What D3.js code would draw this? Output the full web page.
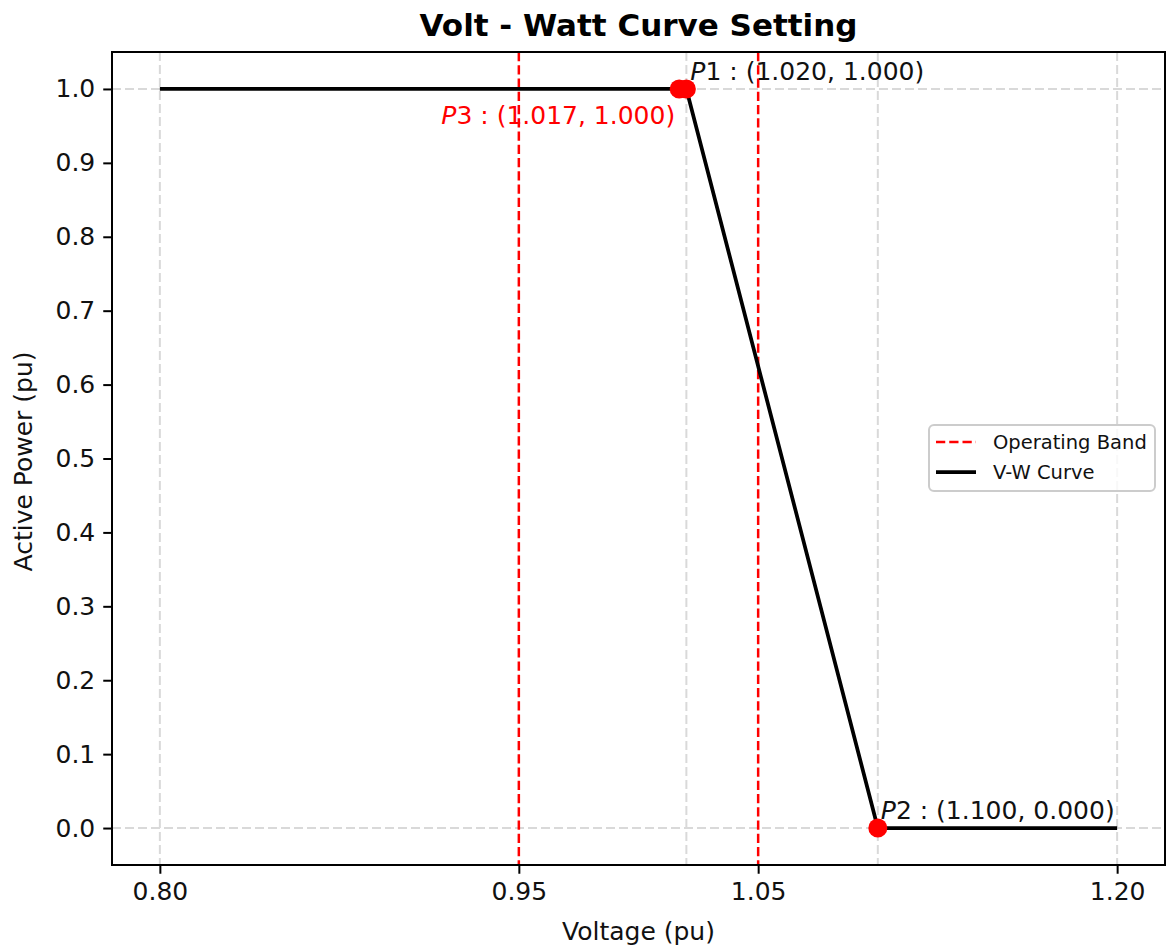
<!DOCTYPE html>
<html>
<head>
<meta charset="utf-8">
<script src="https://cdn.jsdelivr.net/npm/d3@7"></script>
<style>
  html, body { margin: 0; padding: 0; background: #fff; }
  svg { display: block; font-family: "DejaVu Sans", sans-serif; }
</style>
</head>
<body>
<svg id="chart" width="1168" height="952"></svg>
<script>
// ---- data ----
const curveV = [0.80, 1.02, 1.10, 1.20];
const curveP = [1.0, 1.0, 0.0, 0.0];
const bandV = [0.95, 1.05];
const pointNames = ["P1", "P2", "P3"];
const pointV = [1.020, 1.100, 1.017];
const pointP = [1.000, 0.000, 1.000];
const xTicks = [0.80, 0.95, 1.05, 1.20];
const yTicks = [0.0, 0.1, 0.2, 0.3, 0.4, 0.5, 0.6, 0.7, 0.8, 0.9, 1.0];
const gridV = [0.80, 1.02, 1.10, 1.20];
const gridP = [0.0, 1.0];
const legendLabels = ["Operating Band", "V-W Curve"];
const titleText = "Volt - Watt Curve Setting";
const xLabel = "Voltage (pu)";
const yLabel = "Active Power (pu)";

// ---- layout ----
const L = 112, R = 1165, T = 52, B = 865;
const svg = d3.select("#chart");
const x = d3.scaleLinear().domain([0.78, 1.22]).range([L, R]);
const y = d3.scaleLinear().domain([-0.05, 1.05]).range([B, T]);
const ink = "#111";

// grid
const grid = svg.append("g");
grid.selectAll("line.gv").data(gridV).join("line")
  .attr("x1", d => x(d)).attr("x2", d => x(d)).attr("y1", T).attr("y2", B)
  .attr("stroke", "#d9d9d9").attr("stroke-width", 2).attr("stroke-dasharray", "9,4");
grid.selectAll("line.gh").data(gridP).join("line")
  .attr("x1", L).attr("x2", R).attr("y1", d => y(d)).attr("y2", d => y(d))
  .attr("stroke", "#d9d9d9").attr("stroke-width", 2).attr("stroke-dasharray", "9,4");

// operating band
svg.append("g").selectAll("line").data(bandV).join("line")
  .attr("x1", d => x(d)).attr("x2", d => x(d)).attr("y1", T).attr("y2", B)
  .attr("stroke", "#ff0000").attr("stroke-width", 2.5).attr("stroke-dasharray", "9.25,4");

// curve
const curveData = curveV.map((v, i) => [v, curveP[i]]);
svg.append("path").datum(curveData)
  .attr("d", d3.line().x(d => x(d[0])).y(d => y(d[1])))
  .attr("fill", "none").attr("stroke", "#000").attr("stroke-width", 3.75)
  .attr("stroke-linejoin", "round");

// points
const pts = pointNames.map((n, i) => ({ n, v: pointV[i], p: pointP[i] }));
svg.append("g").selectAll("circle").data(pts).join("circle")
  .attr("cx", d => x(d.v)).attr("cy", d => y(d.p)).attr("r", 9.5).attr("fill", "#ff0000");

// labels
function addLabel(d, dx, dy, anchor, color) {
  const t = svg.append("text")
    .attr("x", x(d.v) + dx).attr("y", y(d.p) + dy)
    .attr("text-anchor", anchor).attr("fill", color)
    .attr("font-size", 25);
  t.append("tspan").attr("font-style", "italic").text(d.n[0]);
  t.append("tspan").text(d.n.slice(1) + " : (" + d.v.toFixed(3) + ", " + d.p.toFixed(3) + ")");
}
addLabel(pts[0], 4, -9, "start", ink);
addLabel(pts[1], 3, -9, "start", ink);
addLabel(pts[2], -4, 35, "end", "#ff0000");

// axes
const xAxis = svg.append("g").attr("transform", `translate(0,${B})`)
  .call(d3.axisBottom(x).tickValues(xTicks).tickFormat(d3.format(".2f")).tickSize(8.75).tickPadding(8));
const yAxis = svg.append("g").attr("transform", `translate(${L},0)`)
  .call(d3.axisLeft(y).tickValues(yTicks).tickFormat(d3.format(".1f")).tickSize(8.75).tickPadding(8));
[xAxis, yAxis].forEach(a => {
  a.select(".domain").remove();
  a.selectAll(".tick line").attr("stroke", "#000").attr("stroke-width", 2);
  a.selectAll(".tick text").attr("font-size", 25).attr("fill", ink)
    .attr("font-family", "DejaVu Sans");
});

// frame
svg.append("rect").attr("x", L).attr("y", T).attr("width", R - L).attr("height", B - T)
  .attr("fill", "none").attr("stroke", "#000").attr("stroke-width", 2);

// legend
const lg = svg.append("g");
lg.append("rect").attr("x", 929).attr("y", 425).attr("width", 226).attr("height", 66)
  .attr("rx", 5).attr("fill", "#fff").attr("fill-opacity", 0.8)
  .attr("stroke", "#cccccc").attr("stroke-width", 2);
const legendStyles = [
  { color: "#ff0000", dash: "9.25,4", w: 2.5 },
  { color: "#000", dash: null, w: 3.75 }
];
legendLabels.forEach((lab, i) => {
  const yy = 442 + i * 30;
  lg.append("line").attr("x1", 936).attr("x2", 976).attr("y1", yy).attr("y2", yy)
    .attr("stroke", legendStyles[i].color).attr("stroke-width", legendStyles[i].w)
    .attr("stroke-dasharray", legendStyles[i].dash);
  lg.append("text").attr("x", 993).attr("y", yy + 7).attr("font-size", 19.5)
    .attr("fill", ink).text(lab);
});

// titles
svg.append("text").attr("x", (L + R) / 2).attr("y", 36).attr("text-anchor", "middle")
  .attr("font-size", 31).attr("font-weight", "bold").attr("fill", "#000").text(titleText);
svg.append("text").attr("x", (L + R) / 2).attr("y", 940).attr("text-anchor", "middle")
  .attr("font-size", 25).attr("fill", ink).text(xLabel);
svg.append("text").attr("transform", `translate(32,${(T + B) / 2 + 3}) rotate(-90)`)
  .attr("text-anchor", "middle").attr("font-size", 25).attr("fill", ink).text(yLabel);
</script>
</body>
</html>
